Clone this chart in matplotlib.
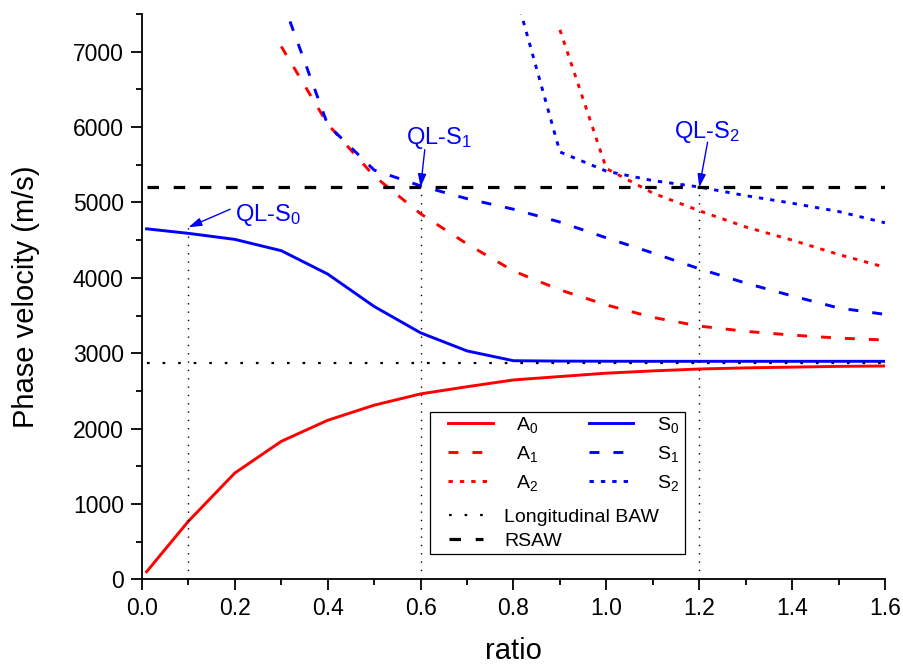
import matplotlib
matplotlib.use("Agg")
import matplotlib.pyplot as plt
from matplotlib.lines import Line2D
from matplotlib.patches import Rectangle
from matplotlib.ticker import MultipleLocator

plt.rcParams['font.family'] = ['Liberation Sans', 'DejaVu Sans']
plt.rcParams['mathtext.default'] = 'regular'

# dispersion branches, phase velocity (m/s) vs ratio
x_fund = [0.01, 0.1, 0.2, 0.3, 0.4, 0.5, 0.6, 0.7, 0.8, 0.9, 1.0, 1.1, 1.2, 1.3, 1.4, 1.5, 1.6]
a0 = [100, 770, 1410, 1830, 2110, 2310, 2460, 2555, 2645, 2690, 2735, 2765, 2790, 2805, 2815, 2825, 2830]
s0 = [4650, 4590, 4510, 4360, 4050, 3620, 3270, 3030, 2900, 2895, 2893, 2892, 2892, 2892, 2892, 2892, 2892]

x_1 = [0.3, 0.4, 0.5, 0.6, 0.7, 0.8, 0.9, 1.0, 1.1, 1.2, 1.3, 1.4, 1.5, 1.6]
a1 = [7070, 6040, 5350, 4850, 4450, 4090, 3840, 3640, 3475, 3360, 3290, 3240, 3200, 3175]
s1 = [7720, 6030, 5430, 5220, 5050, 4910, 4740, 4530, 4330, 4120, 3930, 3760, 3600, 3515]

x_a2 = [0.9, 1.0, 1.1, 1.2, 1.3, 1.4, 1.5, 1.6]
a2 = [7290, 5450, 5125, 4890, 4675, 4500, 4310, 4140]
x_s2 = [0.8, 0.9, 1.0, 1.1, 1.2, 1.3, 1.4, 1.5, 1.6]
s2 = [7870, 5670, 5415, 5290, 5205, 5090, 4990, 4880, 4730]

x_ref = [0.01, 1.6]
v_baw = 2870
v_rsaw = 5200

# quasi-longitudinal points
ql_x = [0.1, 0.6, 1.2]
ql_v = [4670, 5200, 5200]
ql_labels = ['QL-S$_0$', 'QL-S$_1$', 'QL-S$_2$']
ql_text_xy = [(0.2, 4750), (0.568, 5770), (1.146, 5855)]
ql_arrow_from = [(0.19, 4910), (0.609, 5700), (1.218, 5800)]

fig = plt.figure(figsize=(9.04, 6.68), dpi=100)
ax = fig.add_axes([0.157, 0.1328, 0.822, 0.8462])

lw = 2.1
dash = (3.4, 4.8)
dot = (1.5, 2.4)
ax.plot(x_fund, a0, color='red', lw=lw)
ax.plot(x_1, a1, color='red', lw=lw, dashes=dash)
ax.plot(x_a2, a2, color='red', lw=lw, dashes=dot)
ax.plot(x_fund, s0, color='blue', lw=lw)
ax.plot(x_1, s1, color='blue', lw=lw, dashes=dash)
ax.plot(x_s2, s2, color='blue', lw=lw, dashes=dot)

ax.plot(x_ref, [v_baw, v_baw], color='black', lw=1.6, dashes=(1.2, 5.8))
ax.plot(x_ref, [v_rsaw, v_rsaw], color='black', lw=2.3, dashes=(3.6, 4.6))

for xq, vq in zip(ql_x, ql_v):
    ax.plot([xq, xq], [0, vq], color='black', lw=1.0, dashes=(1.0, 5.0))

for lab, txy, axy, xq, vq in zip(ql_labels, ql_text_xy, ql_arrow_from, ql_x, ql_v):
    ax.text(txy[0], txy[1], lab, color='blue', fontsize=17, va='baseline', ha='left')
    ax.annotate('', xy=(xq, vq), xytext=axy,
                arrowprops=dict(arrowstyle='-|>,head_length=0.8,head_width=0.25',
                                color='blue', lw=1.0, shrinkA=0, shrinkB=0))

ax.set_xlim(0, 1.6)
ax.set_ylim(0, 7500)
ax.xaxis.set_major_locator(MultipleLocator(0.2))
ax.xaxis.set_minor_locator(MultipleLocator(0.1))
ax.yaxis.set_major_locator(MultipleLocator(1000))
ax.yaxis.set_minor_locator(MultipleLocator(500))
ax.xaxis.set_major_formatter(plt.FormatStrFormatter('%.1f'))

for side in ['top', 'right']:
    ax.spines[side].set_visible(False)
for side in ['left', 'bottom']:
    ax.spines[side].set_linewidth(1.3)
ax.tick_params(which='major', direction='out', length=8, width=1.3, labelsize=16.5, pad=5)
ax.tick_params(which='minor', direction='out', length=4, width=1.3)

ax.set_xlabel('ratio', fontsize=21)
ax.set_ylabel('Phase velocity (m/s)', fontsize=21)
ax.xaxis.set_label_coords(0.5, -0.102)
ax.yaxis.set_label_coords(-0.137, 0.5)

# legend: two unframed blocks inside one drawn box
h_modes = [
    Line2D([], [], color='red', lw=lw),
    Line2D([], [], color='red', lw=lw, dashes=dash),
    Line2D([], [], color='red', lw=lw, dashes=dot),
    Line2D([], [], color='blue', lw=lw),
    Line2D([], [], color='blue', lw=lw, dashes=dash),
    Line2D([], [], color='blue', lw=lw, dashes=dot),
]
l_modes = ['A$_0$', 'A$_1$', 'A$_2$', 'S$_0$', 'S$_1$', 'S$_2$']
leg1 = ax.legend(h_modes, l_modes, ncol=2, loc='center left',
                 bbox_to_anchor=(0.4118, 0.2217), frameon=False, fontsize=14,
                 handlelength=2.3, handletextpad=1.2, columnspacing=2.6,
                 labelspacing=0.45, borderpad=0, borderaxespad=0)
ax.add_artist(leg1)

h_ref = [
    Line2D([], [], color='black', lw=1.6, dashes=(1.2, 5.8)),
    Line2D([], [], color='black', lw=2.3, dashes=(3.6, 4.6)),
]
leg2 = ax.legend(h_ref, ['Longitudinal BAW', 'RSAW'], loc='center left',
                 bbox_to_anchor=(0.4132, 0.0883), frameon=False, fontsize=14,
                 handlelength=1.75, handletextpad=1.1, labelspacing=0.32,
                 borderpad=0, borderaxespad=0)

ax.add_patch(Rectangle((0.3876, 0.0448), 0.3432, 0.2512, transform=ax.transAxes,
                       fill=False, edgecolor='black', lw=0.9, zorder=5))

fig.savefig('out.png', dpi=100)
